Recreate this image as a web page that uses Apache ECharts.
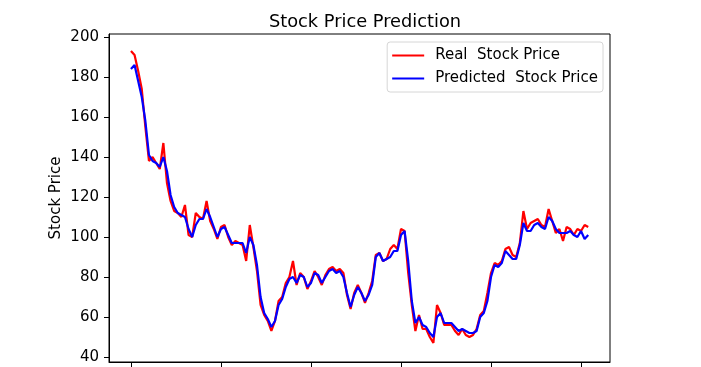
<!DOCTYPE html>
<html>
<head>
<meta charset="utf-8">
<script src="https://cdn.jsdelivr.net/npm/echarts@6/dist/echarts.min.js"></script>
<style>html,body{margin:0;padding:0;background:#fff}#c{width:701px;height:367px}</style>
</head>
<body>
<div id="c"></div>
<script>
var titleText = 'Stock Price Prediction';
var yAxisName = 'Stock Price';
var seriesNames = ['Real  Stock Price', 'Predicted  Stock Price'];
var yTicks = [40, 60, 80, 100, 120, 140, 160, 180, 200];
var xTicks = [0, 50, 100, 150, 200, 250];
var xIdx = [0,2,4,6,8,10,12,14,16,18,20,22,24,26,28,30,32,34,36,38,40,42,44,46,48,50,52,54,56,58,60,62,64,66,68,70,72,74,76,78,80,82,84,86,88,90,92,94,96,98,100,102,104,106,108,110,112,114,116,118,120,122,124,126,128,130,132,134,136,138,140,142,144,146,148,150,152,154,156,158,160,162,164,166,168,170,172,174,176,178,180,182,184,186,188,190,192,194,196,198,200,202,204,206,208,210,212,214,216,218,220,222,224,226,228,230,232,234,236,238,240,242,244,246,248,250,252,254];
var realPrice = [193,191,183,174,155,138,140,137,134,147,127,118,113,112,110,116,101,100,112,110,109,118,108,104,99,105,106,100,96,98,97,96,88,106,95,83,66,61,58,53,58,68,70,77,80,88,76,82,80,74,78,83,80,76,81,84,85,83,84,82,71,64,72,76,72,67,72,78,91,92,88,89,94,96,94,104,103,82,66,53,61,54,54,50,47,66,62,56,56,56,53,51,54,51,50,51,54,61,63,72,82,87,86,88,94,95,91,90,97,113,104,107,108,109,106,105,114,108,102,104,98,105,104,101,104,103,106,105];
var predPrice = [184,186,178,170,158,141,138,137,135,140,133,121,115,112,111,110,104,100,106,109,109,114,110,105,100,104,105,101,97,97,97,97,92,100,96,86,70,62,59,55,58,66,69,75,79,80,77,81,80,75,77,82,81,77,80,83,84,82,83,80,72,65,71,75,72,68,71,76,90,92,88,89,90,93,93,101,103,88,68,57,60,56,55,52,50,60,62,57,57,57,55,53,54,53,52,52,53,60,62,68,80,86,85,87,93,91,89,89,96,107,103,103,106,107,105,104,110,108,104,102,102,102,103,101,100,103,99,101];

function pairs(vals) { return xIdx.map(function (x, k) { return [x, vals[k]]; }); }

var font = 'DejaVu Sans';
var chart = echarts.init(document.getElementById('c'), null, {renderer: 'canvas'});
chart.setOption({
  animation: false,
  backgroundColor: '#fff',
  title: {
    text: titleText, left: 360, top: 8, textAlign: 'center',
    textStyle: {fontFamily: font, fontSize: 17.8, fontWeight: 'normal', color: '#000'}
  },
  grid: {left: 109, right: 91, top: 34, bottom: 5, show: true, borderColor: '#000', borderWidth: 1, containLabel: false},
  legend: {
    orient: 'vertical', right: 98, top: 42,
    padding: [6, 5, 6, 4], itemGap: 8, itemWidth: 32, itemHeight: 14,
    borderColor: '#d6d6d6', borderWidth: 1, borderRadius: 3, backgroundColor: 'rgba(255,255,255,0.8)',
    itemStyle: {opacity: 0},
    lineStyle: {width: 2},
    textStyle: {fontFamily: font, fontSize: 15, color: '#000', padding: [0, 0, 0, 6]},
    data: seriesNames
  },
  xAxis: {
    type: 'value', min: -12.2, max: 266.1,
    splitLine: {show: false},
    axisLine: {show: true, onZero: false, lineStyle: {color: '#000', width: 1}},
    axisTick: {show: true, length: 5, customValues: xTicks, lineStyle: {color: '#000'}},
    axisLabel: {show: false}
  },
  yAxis: {
    type: 'value', min: 37.5, max: 201.5,
    name: yAxisName, nameLocation: 'middle', nameGap: 45, nameRotate: 90, nameMoveOverlap: false,
    nameTextStyle: {fontFamily: font, fontSize: 15, color: '#000'},
    splitLine: {show: false},
    axisLine: {show: true, onZero: false, lineStyle: {color: '#000', width: 1}},
    axisTick: {show: true, length: 5, customValues: yTicks, lineStyle: {color: '#000'}},
    axisLabel: {show: true, margin: 10, customValues: yTicks, fontFamily: font, fontSize: 15, color: '#000'}
  },
  series: [
    {name: seriesNames[0], type: 'line', data: pairs(realPrice), symbol: 'none', lineStyle: {color: '#ff0000', width: 2.2}, itemStyle: {color: '#ff0000'}},
    {name: seriesNames[1], type: 'line', data: pairs(predPrice), symbol: 'none', lineStyle: {color: '#0000ff', width: 2.2}, itemStyle: {color: '#0000ff'}}
  ]
});
</script>
</body>
</html>
